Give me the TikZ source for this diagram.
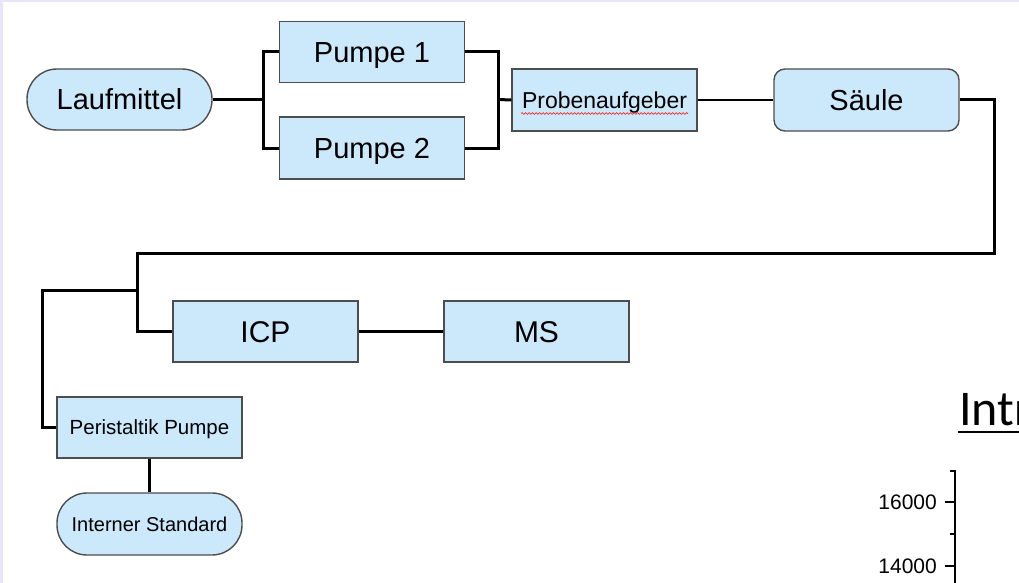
\documentclass[tikz,border=0pt]{standalone}
\usepackage{fontspec}
\setmainfont{Liberation Sans}
\newfontfamily\calibrifont{Carlito}
\usetikzlibrary{decorations.pathmorphing}
\definecolor{boxfill}{HTML}{CCE9FB}
\definecolor{boxline}{HTML}{4D4D4D}
\definecolor{pagetint}{HTML}{E6E6F8}
\begin{document}
\begin{tikzpicture}[x=1pt,y=-1pt,
  % font size in pt; the text box is as tall as a capital, so capitals sit centred
  fs/.code={\pgfmathsetmacro\capheight{0.716*#1}%
    \tikzset{font=\fontsize{#1}{#1}\selectfont, text height=\capheight pt, text depth=0pt}},
  unit/.style={draw=boxline, line width=1.4pt, fill=boxfill,
    minimum width=185pt, minimum height=61pt, inner sep=0pt, fs=29},
  pill/.style={unit, rounded corners=30pt},
  rbox/.style={unit, rounded corners=11pt},
  pipe/.style={draw=black, line width=3pt},
  thinpipe/.style={draw=black, line width=2.5pt},
  axisline/.style={draw=black, line width=1.8pt},
  ticklabel/.style={anchor=east, inner sep=0pt, font=\fontsize{21}{21}\selectfont},
]
% page background with tinted edge
\fill[pagetint] (0,0) rectangle (1019,583);
\fill[white] (3,2) rectangle (1019,583);
\useasboundingbox (0,0) rectangle (1019,583);

% units of the chromatography line
\node[pill] (lauf) at (119.5,99.5) {Laufmittel};
\node[unit] (p1) at (372,52) {Pumpe 1};
\node[unit, minimum height=62pt] (p2) at (372,148) {Pumpe 2};
\node[unit, minimum height=62pt, fs=23] (probe) at (604.5,100) {Probenaufgeber};
\node[rbox, minimum height=62pt] (saeule) at (866.5,100) {Säule};
\node[unit, fs=30] (icp) at (265.5,331.5) {ICP};
\node[unit, fs=30] (ms) at (536.5,331.5) {MS};
\node[unit, fs=20.5] (peri) at (149.5,427.5) {Peristaltik Pumpe};
\node[pill, minimum height=62pt, fs=20] (intstd) at (149.5,524) {Interner Standard};

% spell-check squiggle under the sampler label
\draw[red, line width=0.6pt, decorate, decoration={snake, amplitude=0.9pt, segment length=3.5pt}]
  (521,113.5) -- (688,113.5);

% junction points of the tubing
\coordinate (j1) at (263,99.5);
\coordinate (j2) at (498,99.5);
\coordinate (c1) at (994,253);
\coordinate (c2) at (137,253);
\coordinate (j3) at (137,290);
\coordinate (c3) at (42,290);

% tubing
\draw[pipe] (lauf.east) -- (j1);
\draw[pipe] (p1.west) -| (j1) |- (p2.west);
\draw[pipe] (p1.east) -| (j2) |- (p2.east);
\draw[pipe] (j2) -- (probe.west);
\draw[thinpipe] (probe.east) -- (saeule.west);
\draw[pipe] (saeule.east) -| (c1) -- (c2) |- (icp.west);
\draw[pipe] (j3) -- (c3) |- (peri.west);
\draw[pipe] (peri.south) -- (intstd.north);
\draw[thinpipe] (icp.east) -- (ms.west);

% chart fragment at the right edge
\node[anchor=base west, inner sep=0pt, font=\calibrifont\fontsize{50}{50}\selectfont] (ctitle) at (959,425) {Intr};
\draw[line width=2.5pt] (958,432) -- (1019,432);
\draw[axisline] (950,471) -- (955,471) -- (955,583);
\draw[axisline] (945,502) -- (955,502);
\draw[axisline] (950,534) -- (955,534);
\draw[axisline] (945,566) -- (955,566);
\node[ticklabel] (l16) at (937,502) {16000};
\node[ticklabel] (l14) at (937,566) {14000};
\end{tikzpicture}
\end{document}
